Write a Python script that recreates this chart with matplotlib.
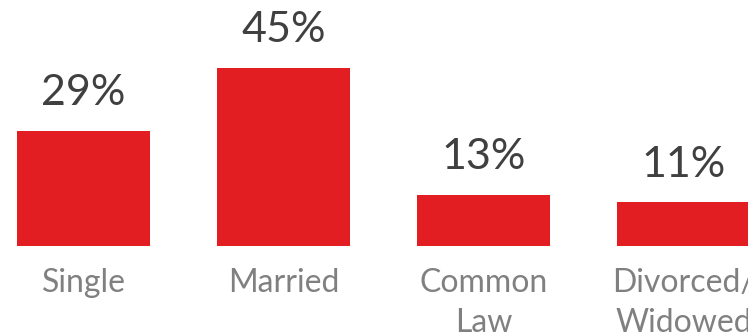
import matplotlib
matplotlib.use("Agg")
import matplotlib.pyplot as plt

categories = ["Single", "Married", "Common\nLaw", "Divorced/\nWidowed"]
values = [29, 45, 13, 11]

BAR_COLOR = "#E21E22"
VALUE_COLOR = "#404040"
CAT_COLOR = "#808080"

plt.rcParams["font.family"] = ["Lato", "DejaVu Sans"]

fig = plt.figure(figsize=(7.48, 3.32), dpi=100)
ax = fig.add_axes([0, 86 / 332, 1, 246 / 332])

x = list(range(len(values)))
bars = ax.bar(x, values, width=0.665, color=BAR_COLOR, linewidth=0)

ax.set_xlim(-0.4175, 3.3225)
ax.set_ylim(0, 246 / 3.96)
ax.axis("off")

for xi, v in zip(x, values):
    ax.annotate(f"{v}%", xy=(xi, v), xytext=(0, 18.5), textcoords="offset points",
                ha="center", va="baseline", fontsize=31, color=VALUE_COLOR)

for xi, name in zip(x, categories):
    ax.annotate(name, xy=(xi, 0), xytext=(0, -16), textcoords="offset points",
                ha="center", va="top", fontsize=23, color=CAT_COLOR,
                linespacing=1.4, annotation_clip=False)

fig.savefig("out.png", dpi=100)
